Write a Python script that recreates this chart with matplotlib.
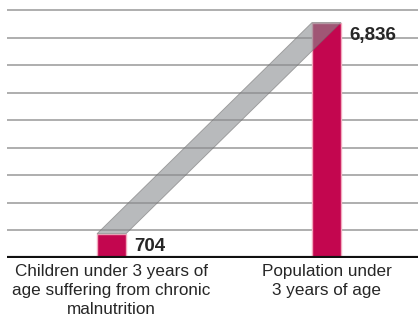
import matplotlib
matplotlib.use('Agg')
import matplotlib.pyplot as plt
from matplotlib.patches import Polygon

plt.rcParams['font.family'] = ['Liberation Sans Narrow', 'Liberation Sans', 'DejaVu Sans']

# data
categories = ['Children under 3 years of\nage suffering from chronic\nmalnutrition',
              'Population under\n3 years of age']
values = [704, 6836]
value_labels = ['704', '6,836']
grid_values = [800, 1600, 2400, 3200, 4000, 4800, 5600, 6400, 7200]

bar_color = '#c3064f'
bar_edge = '#f2a9bd'
width = 0.135
x = [0, 1]

fig = plt.figure(figsize=(4.18, 3.31), dpi=100)
ax = fig.add_axes([7 / 418, 73 / 331, 411 / 418, 258 / 331])

for g in grid_values:
    ax.axhline(g, color='#a8a8a8', lw=1.3, zorder=1)

ax.bar(x, values, width=width, color=bar_color, edgecolor=bar_edge, lw=1.0, zorder=2)

# connecting band between bar tops
band = Polygon([(x[0] - width / 2, values[0]), (x[0] + width / 2, values[0]),
                (x[1] + width / 2, values[1]), (x[1] - width / 2, values[1])],
               closed=True, facecolor='#8a8c90', alpha=0.6,
               edgecolor='#707070', lw=0.6, zorder=3)
ax.add_patch(band)

for xi, v, lab in zip(x, values, value_labels):
    ax.annotate(lab, (xi + width / 2, v), xytext=(6, -3), textcoords='offset points',
                ha='left', va='top', fontsize=13.5, fontweight='bold',
                color='#262626', zorder=4)

ax.axhline(0, color='#111111', lw=3, zorder=5)

ax.set_xlim(-0.486, 1.4256)
ax.set_ylim(0, 7490)
ax.set_xticks(x)
ax.set_xticklabels(categories, fontsize=12.3, color='#262626', linespacing=1.35)
ax.tick_params(axis='x', length=0, pad=4)
ax.set_yticks([])
for s in ax.spines.values():
    s.set_visible(False)

fig.savefig('out.png', dpi=100)
